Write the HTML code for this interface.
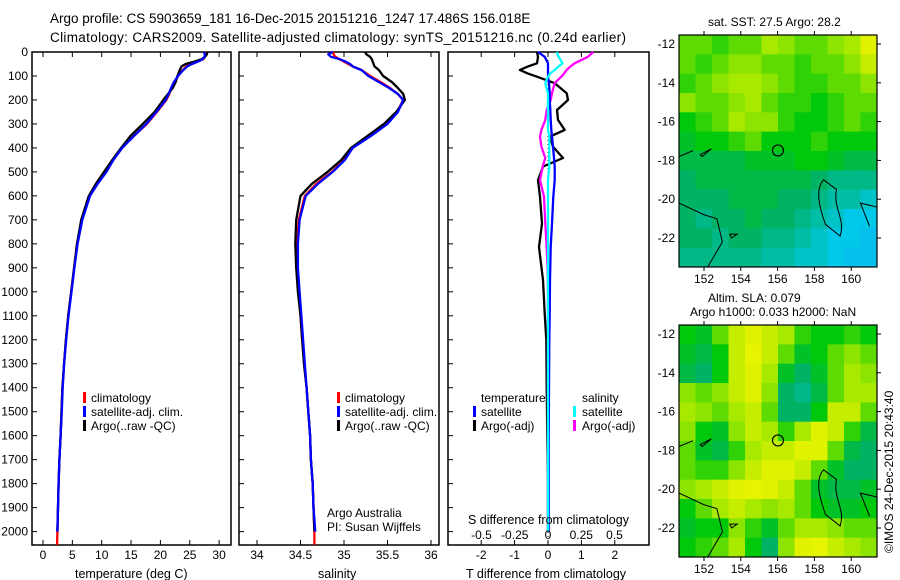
<!DOCTYPE html>
<html><head><meta charset="utf-8">
<style>
body{margin:0;background:#fff;}
svg{display:block;font-family:"Liberation Sans",sans-serif;}
text{fill:#000;}
</style></head>
<body>
<svg id="fig" width="900" height="580" viewBox="0 0 900 580">
<rect width="900" height="580" fill="#fff"/>
<text x="50" y="23" font-size="13.5">Argo profile: CS 5903659_181 16-Dec-2015 20151216_1247 17.486S 156.018E</text>
<text x="50" y="42" font-size="13.5" textLength="576">Climatology: CARS2009. Satellite-adjusted climatology: synTS_20151216.nc (0.24d earlier)</text>
<g id="p1"></g>
<g id="p2"></g>
<g id="p3"></g>
<g id="m1"></g>
<g id="m2"></g>
<text x="708" y="26" font-size="12">sat. SST: 27.5 Argo: 28.2</text>
<text x="708" y="302" font-size="12">Altim. SLA: 0.079</text>
<text x="690" y="316" font-size="12">Argo h1000: 0.033 h2000: NaN</text>
<text transform="translate(893,553) rotate(-90)" font-size="12">©IMOS 24-Dec-2015 20:43:40</text>
</svg>
<script>
const depths=[0,10,20,30,40,50,60,75,100,125,150,175,200,250,300,350,400,450,500,550,600,700,800,900,1000,1100,1200,1300,1400,1500,1600,1700,1800,1900,2000,2055];
const tClim=[27.9,27.8,27.6,27.3,26.3,25.2,24.4,23.8,23.0,22.4,21.9,21.5,21.0,19.4,17.7,15.5,13.4,11.9,10.6,9.2,7.9,6.6,5.8,5.3,4.8,4.3,3.9,3.6,3.3,3.15,3.0,2.8,2.65,2.55,2.45,2.4];
const tSat=[27.4,27.6,27.5,27.2,26.4,25.4,24.6,23.9,23.0,22.3,21.8,21.4,20.9,19.3,17.6,15.5,13.5,12.0,10.8,9.3,8.0,6.7,5.9,5.35,4.85,4.35,3.95,3.6,3.35,3.2,3.0,2.8,2.65,2.55,2.45];
const tArgo=[28.0,27.9,27.6,27.0,25.8,24.3,23.6,23.3,22.9,22.6,22.1,21.3,20.5,19.0,17.0,14.9,13.3,11.8,10.4,9.0,7.8,6.5,5.8,5.3,4.8,4.3,3.9,3.6,3.3,3.15,3.0,2.8,2.65,2.55,2.45];
const sClim=[34.88,34.88,34.9,34.95,35.0,35.05,35.1,35.2,35.3,35.42,35.53,35.62,35.68,35.61,35.49,35.3,35.1,35.0,34.86,34.68,34.55,34.48,34.46,34.46,34.48,34.5,34.52,34.54,34.57,34.59,34.61,34.62,34.64,34.65,34.66,34.66];
const sSat=[34.87,34.82,34.85,34.95,35.02,35.07,35.1,35.2,35.28,35.4,35.52,35.62,35.68,35.62,35.5,35.31,35.1,35.01,34.87,34.7,34.56,34.49,34.47,34.47,34.49,34.51,34.53,34.55,34.57,34.59,34.61,34.62,34.64,34.65,34.67];
const sArgo=[35.24,35.26,35.3,35.32,35.33,35.34,35.35,35.4,35.45,35.55,35.62,35.68,35.7,35.6,35.46,35.27,35.08,34.97,34.81,34.63,34.5,34.45,34.44,34.45,34.47,34.5,34.52,34.54,34.57,34.59,34.61,34.62,34.64,34.65,34.66];
const dDepth=[0,20,47,60,75,90,103,130,172,200,242,283,325,353,395,442,478,534,604,715,813,951,1090,1200,1400,1600,1800,2000];
const dTArgo=[-0.33,-0.3,-0.33,-0.6,-0.84,-0.6,-0.33,0.2,0.56,0.6,0.27,0.3,0.5,0.06,0.15,0.45,-0.15,-0.3,-0.24,-0.18,-0.27,-0.15,-0.1,-0.05,-0.04,-0.02,0.0,0.0];
const dTSat=[-0.3,-0.1,0,0,0,0,0,0.03,0.05,0.05,0.07,0.08,0.1,0.12,0.15,0.18,0.2,0.2,0.16,0.12,0.08,0.06,0.05,0.04,0.03,0.02,0.02,0.02];
const dSSat=[0.065,0.08,0.11,0.08,0.05,0.015,0.0,-0.02,0.0,0.0,0.0,0.0,0.0,0.01,0.01,0.01,0.01,0.0,0.0,0.0,0.0,0.0,0.0,0.0,0.0,0.0,0.0,0.0];
const dSArgo=[0.34,0.3,0.2,0.17,0.14,0.12,0.1,0.05,0.03,0.02,-0.01,-0.02,-0.05,-0.06,-0.05,-0.02,-0.04,-0.06,-0.03,-0.02,-0.01,0,0,0,0,0,0,0];
const depthTicks=[0,100,200,300,400,500,600,700,800,900,1000,1100,1200,1300,1400,1500,1600,1700,1800,1900,2000];
const tTicks=[0,5,10,15,20,25,30];
const sTicks=[34,34.5,35,35.5,36];
const sTickLabels=["34","34.5","35","35.5","36"];
const dTTicks=[-2,-1,0,1,2];
const dSTicks=[-0.5,-0.25,0,0.25,0.5];
const dSTickLabels=["-0.5","-0.25","0","0.25","0.5"];
const latTicks=[-12,-14,-16,-18,-20,-22];
const lonTicks=[152,154,156,158,160];
const sstGrid=[
[0.7,0.7,0.65,0.7,0.7,0.8,0.75,0.7,0.7,0.75,0.8,0.9],
[0.7,0.65,0.7,0.75,0.75,0.7,0.7,0.65,0.7,0.7,0.75,0.85],
[0.65,0.7,0.75,0.8,0.8,0.75,0.7,0.65,0.65,0.7,0.7,0.75],
[0.75,0.7,0.7,0.75,0.8,0.7,0.65,0.65,0.6,0.65,0.7,0.7],
[0.6,0.65,0.7,0.8,0.75,0.75,0.65,0.6,0.6,0.65,0.7,0.65],
[0.55,0.6,0.6,0.65,0.7,0.6,0.6,0.6,0.65,0.6,0.6,0.6],
[0.5,0.5,0.5,0.5,0.55,0.55,0.55,0.6,0.6,0.55,0.5,0.5],
[0.45,0.5,0.5,0.5,0.5,0.5,0.5,0.5,0.45,0.4,0.4,0.4],
[0.45,0.45,0.45,0.5,0.5,0.5,0.45,0.45,0.4,0.35,0.35,0.3],
[0.45,0.4,0.45,0.45,0.5,0.45,0.45,0.4,0.35,0.3,0.25,0.25],
[0.45,0.45,0.4,0.45,0.45,0.4,0.4,0.35,0.3,0.25,0.25,0.2],
[0.4,0.4,0.4,0.4,0.4,0.35,0.35,0.3,0.3,0.25,0.2,0.2]];
const slaGrid=[
[0.6,0.55,0.7,0.85,0.9,0.85,0.8,0.65,0.6,0.6,0.65,0.6],
[0.55,0.5,0.6,0.85,0.95,0.85,0.7,0.55,0.6,0.7,0.75,0.7],
[0.5,0.45,0.6,0.85,0.9,0.8,0.55,0.45,0.55,0.7,0.8,0.75],
[0.75,0.7,0.75,0.85,0.9,0.75,0.45,0.4,0.5,0.7,0.8,0.8],
[0.8,0.75,0.7,0.8,0.85,0.7,0.45,0.45,0.6,0.85,0.85,0.7],
[0.75,0.6,0.55,0.75,0.85,0.8,0.65,0.8,0.9,0.85,0.65,0.5],
[0.7,0.55,0.5,0.65,0.8,0.85,0.85,0.9,0.9,0.7,0.5,0.45],
[0.7,0.65,0.65,0.75,0.85,0.9,0.9,0.85,0.7,0.55,0.45,0.45],
[0.75,0.8,0.85,0.9,0.95,0.9,0.85,0.7,0.55,0.5,0.5,0.55],
[0.6,0.7,0.8,0.85,0.8,0.75,0.8,0.7,0.6,0.55,0.55,0.6],
[0.55,0.6,0.6,0.75,0.65,0.55,0.7,0.8,0.8,0.75,0.7,0.7],
[0.6,0.65,0.7,0.8,0.6,0.45,0.75,0.9,0.95,0.85,0.8,0.75]];

const NS="http://www.w3.org/2000/svg";
function mk(tag,attrs,parent){const e=document.createElementNS(NS,tag);for(const k in attrs)e.setAttribute(k,attrs[k]);parent.appendChild(e);return e;}
const Y0=52,PXM=0.2398;
const yD=d=>Y0+d*PXM;
const xT=t=>43+t*5.87;
const xS=s=>257+(s-34)*87;
const xDT=t=>548+t*33.4;
const xDS=s=>548+s*133;

function frame(g,x0,x1,name){
  const r=mk('rect',{x:x0,y:52,width:x1-x0,height:493,fill:'none',stroke:'#000','stroke-width':1.5},g);
  
  
}
function depthAxis(g,x0,labels){
  depthTicks.forEach(d=>{
    const l=mk('line',{x1:x0,x2:x0+5,y1:yD(d),y2:yD(d),stroke:'#000'},g);
    
    
    if(labels){
      const t=mk('text',{x:x0-4,y:yD(d)+4,'font-size':12,'text-anchor':'end'},g);
      t.textContent=d;
      
      
    }
  });
}
function xAxis(g,ticks,labels,fx,ly,name,tickTop){
  ticks.forEach((v,i)=>{
    const l=mk('line',{x1:fx(v),x2:fx(v),y1:545,y2:540,stroke:'#000'},g);
    
    
    if(tickTop){
      const l2=mk('line',{x1:fx(v),x2:fx(v),y1:52,y2:57,stroke:'#000'},g);
      
      
    }
    const t=mk('text',{x:fx(v),y:ly,'font-size':12,'text-anchor':'middle'},g);
    t.textContent=labels[i];
    
    
  });
}
function line(g,xs,ds,fx,color,name,w){
  const n=Math.min(xs.length,ds.length);
  let p='';
  for(let i=0;i<n;i++)p+=(i?'L':'M')+fx(xs[i]).toFixed(1)+','+yD(ds[i]).toFixed(1);
  const e=mk('path',{d:p,fill:'none',stroke:color,'stroke-width':w||2.3,'stroke-linejoin':'round'},g);
  
  
}
function txt(g,x,y,s,name,size,anchor){
  const t=mk('text',{x:x,y:y,'font-size':size||12,'text-anchor':anchor||'start'},g);
  t.textContent=s;
  
  
}
function legendBar(g,x,y,color,name){
  const r=mk('rect',{x:x,y:y-10,width:3,height:11,fill:color},g);
  
  
}

const p1=document.getElementById('p1');
frame(p1,32,231,'temperature');
depthAxis(p1,32,true);
xAxis(p1,tTicks,tTicks.map(String),xT,559,'temperature',true);
line(p1,tClim,depths,xT,'#f00','temperature-climatology-line');
line(p1,tArgo,depths,xT,'#000','temperature-argo-line');
line(p1,tSat,depths,xT,'#00f','temperature-satellite-line');
txt(p1,75,578,'temperature (deg C)','temperature-axis-title',12.5);
legendBar(p1,83,402,'#f00','legend-climatology-swatch');
legendBar(p1,83,416,'#00f','legend-satellite-swatch');
legendBar(p1,83,430,'#000','legend-argo-swatch');
txt(p1,91,402,'climatology','legend-climatology');
txt(p1,91,416,'satellite-adj. clim.','legend-satellite');
txt(p1,91,430,'Argo(..raw -QC)','legend-argo');

const p2=document.getElementById('p2');
frame(p2,239,439,'salinity');
depthAxis(p2,239,false);
xAxis(p2,sTicks,sTickLabels,xS,559,'salinity',true);
line(p2,sClim,depths,xS,'#f00','salinity-climatology-line');
line(p2,sArgo,depths,xS,'#000','salinity-argo-line');
line(p2,sSat,depths,xS,'#00f','salinity-satellite-line');
txt(p2,318,578,'salinity','salinity-axis-title',12.5);
legendBar(p2,337,402,'#f00','legend2-climatology-swatch');
legendBar(p2,337,416,'#00f','legend2-satellite-swatch');
legendBar(p2,337,430,'#000','legend2-argo-swatch');
txt(p2,345,402,'climatology','legend2-climatology');
txt(p2,345,416,'satellite-adj. clim.','legend2-satellite');
txt(p2,345,430,'Argo(..raw -QC)','legend2-argo');
txt(p2,327,517,'Argo Australia','argo-australia-label');
txt(p2,327,531,'PI: Susan Wijffels','pi-label');

const p3=document.getElementById('p3');
frame(p3,448,649,'difference');
depthAxis(p3,448,false);
xAxis(p3,dTTicks,dTTicks.map(String),xDT,559,'t-difference',true);
const zl=mk('line',{x1:548,x2:548,y1:52,y2:545,stroke:'#000','stroke-dasharray':'1,3'},p3);


line(p3,dTArgo,dDepth,xDT,'#000','t-difference-argo-line');
line(p3,dSArgo,dDepth,xDS,'#f0f','s-difference-argo-line');
line(p3,dTSat,dDepth,xDT,'#00f','t-difference-satellite-line');
line(p3,dSSat,dDepth,xDS,'#0ff','s-difference-satellite-line');
dSTicks.forEach((v,i)=>txt(p3,xDS(v),539,dSTickLabels[i],'s-difference-tick-label',12,'middle'));
txt(p3,468,524,'S difference from climatology','s-difference-axis-title',12.5);
txt(p3,466,578,'T difference from climatology','t-difference-axis-title',12.5);
txt(p3,481,402,'temperature','legend3-temperature-header');
txt(p3,582,402,'salinity','legend3-salinity-header');
legendBar(p3,473,416,'#00f','legend3-t-satellite-swatch');
legendBar(p3,473,430,'#000','legend3-t-argo-swatch');
legendBar(p3,573,416,'#0ff','legend3-s-satellite-swatch');
legendBar(p3,573,430,'#f0f','legend3-s-argo-swatch');
txt(p3,481,416,'satellite','legend3-t-satellite');
txt(p3,481,430,'Argo(-adj)','legend3-t-argo');
txt(p3,582,416,'satellite','legend3-s-satellite');
txt(p3,582,430,'Argo(-adj)','legend3-s-argo');

const stops=[[0,[30,150,255]],[0.25,[0,200,232]],[0.45,[0,178,100]],[0.6,[0,200,10]],[0.75,[140,228,0]],[0.9,[225,242,0]],[1,[235,245,0]]];
function cmap(v){
  for(let i=1;i<stops.length;i++){if(v<=stops[i][0]){const a=stops[i-1],b=stops[i];const f=(v-a[0])/(b[0]-a[0]);const c=a[1].map((x,j)=>Math.round(x+(b[1][j]-x)*f));return 'rgb('+c.join(',')+')';}}
  return 'rgb(235,245,0)';
}
function drawMap(id,grid,top,prefix){
  const g=document.getElementById(id);
  const L=679,R=877,B=top+232;
  const xL=lon=>704+(lon-152)*18.4;
  const yL=lat=>top+9+(-12-lat)*19.4;
  const rows=grid.length,cols=grid[0].length;
  const cw=(R-L)/cols,ch=(B-top)/rows;
  grid.forEach((row,r)=>row.forEach((v,c)=>{
    const e=mk('rect',{x:L+c*cw,y:top+r*ch,width:cw+0.5,height:ch+0.5,fill:cmap(v)},g);
    
    
  }));
  const cont=mk('path',{d:`M${xL(158.5)},${yL(-19)} C${xL(158)},${yL(-19.5)} ${xL(158.3)},${yL(-20.5)} ${xL(158.6)},${yL(-21.3)} L${xL(159.4)},${yL(-21.9)} C${xL(159.7)},${yL(-21)} ${xL(159)},${yL(-20.5)} ${xL(159.2)},${yL(-19.5)} Z M${L},${yL(-20.2)} L${xL(152)},${yL(-20.8)} L${xL(152.7)},${yL(-21)} L${xL(153)},${yL(-22.2)} L${xL(152.2)},${yL(-23.5)} M${L},${yL(-17.8)} L${xL(151.4)},${yL(-17.5)} M${xL(151.8)},${yL(-17.7)} L${xL(152.4)},${yL(-17.4)} L${xL(151.9)},${yL(-17.8)} Z M${R},${yL(-20.4)} L${xL(160.5)},${yL(-20.2)} L${xL(161)},${yL(-21.4)} M${xL(153.4)},${yL(-21.8)} L${xL(153.8)},${yL(-21.8)} L${xL(153.5)},${yL(-22)} Z`,fill:'none',stroke:'#000','stroke-width':1},g);
  
  
  const c=mk('circle',{cx:xL(156.018),cy:yL(-17.486),r:5.5,fill:'none',stroke:'#000','stroke-width':1.2},g);
  
  
  const fr=mk('rect',{x:L,y:top,width:R-L,height:B-top,fill:'none',stroke:'#000','stroke-width':1.2},g);
  
  
  latTicks.forEach(lat=>{
    const t=mk('text',{x:675,y:yL(lat)+4,'font-size':12,'text-anchor':'end'},g);
    t.textContent=String(lat);
    
    
    const tk=mk('line',{x1:R,x2:R+4,y1:yL(lat),y2:yL(lat),stroke:'#000'},g);
    
    
  });
  lonTicks.forEach(lon=>{
    const t=mk('text',{x:xL(lon),y:B+16,'font-size':12,'text-anchor':'middle'},g);
    t.textContent=String(lon);
    
    
    const tk=mk('line',{x1:xL(lon),x2:xL(lon),y1:B,y2:B+4,stroke:'#000'},g);
    
    
    const tk2=mk('line',{x1:xL(lon),x2:xL(lon),y1:top,y2:top-4,stroke:'#000'},g);
    
    
  });
}
drawMap('m1',sstGrid,35,'sst-map');
drawMap('m2',slaGrid,325,'sla-map');
</script>
</body></html>
